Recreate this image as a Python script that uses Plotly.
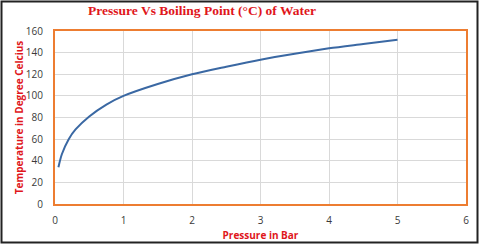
import plotly.graph_objects as go

pressure_bar = [0.05, 0.1, 0.2, 0.3, 0.5, 0.75, 1.0, 1.5, 2.0, 2.5, 3.0, 3.5, 4.0, 4.5, 5.0]
boiling_c = [34, 46, 60, 69, 81, 92, 100, 111, 120, 127, 133.5, 139, 144, 148, 152]
x_ticks = [0, 1, 2, 3, 4, 5, 6]
y_ticks = [0, 20, 40, 60, 80, 100, 120, 140, 160]

W, H = 480, 245
L, R, T, B = 55, 14, 31, 41
pw, ph = W - L - R, H - T - B

fig = go.Figure()
fig.add_trace(go.Scatter(
    x=pressure_bar, y=boiling_c, mode="lines",
    line=dict(color="#3a68a3", width=2, shape="spline", smoothing=0.8),
    showlegend=False, hoverinfo="skip"))

tick_font = dict(family="Open Sans, Liberation Sans, sans-serif", size=10, color="#3a3a3a")
fig.update_layout(
    width=W, height=H, autosize=False,
    margin=dict(l=L, r=R, t=T, b=B, autoexpand=False),
    paper_bgcolor="white", plot_bgcolor="white",
    title=dict(text="<b>Pressure Vs Boiling Point (°C) of Water</b>",
               font=dict(family="Liberation Serif, Times New Roman, serif", size=13.5, color="#e0161b"),
               x=202 / W, xanchor="center", y=1 - 10 / H, yanchor="middle", xref="container", yref="container"),
    xaxis=dict(range=[0, 6], tickvals=x_ticks, showgrid=True, gridcolor="#d9d9d9", gridwidth=1,
               zeroline=False, showline=True, linecolor="#ed7d31", linewidth=2, mirror=True,
               tickfont=tick_font, ticks="outside", ticklen=6, tickcolor="rgba(0,0,0,0)",
               automargin=False,
               title=dict(text="<b>Pressure in Bar</b>", standoff=6,
                          font=dict(family="Open Sans, Liberation Sans, sans-serif", size=10, color="#e0161b"))),
    yaxis=dict(range=[0, 160], tickvals=y_ticks, showgrid=True, gridcolor="#d9d9d9", gridwidth=1,
               zeroline=False, showline=True, linecolor="#ed7d31", linewidth=2, mirror=True,
               tickfont=tick_font, ticks="outside", ticklen=8, tickcolor="rgba(0,0,0,0)",
               automargin=False,
               title=dict(text="<b>Temperature in Degree Celcius</b>", standoff=0,
                          font=dict(family="Open Sans, Liberation Sans, sans-serif", size=10, color="#e0161b"))),
)

# outer black frame around the whole chart
fig.add_shape(type="rect", xref="paper", yref="paper",
              x0=(1.5 - L) / pw, x1=(W - 2.5 - L) / pw,
              y0=(ph + T - (H - 2.5)) / ph, y1=(ph + T - 1.5) / ph,
              line=dict(color="#222222", width=2), fillcolor="rgba(0,0,0,0)", layer="below")

fig.write_html("out.html", config={"displayModeBar": False})
with open("out.html", encoding="utf-8") as f:
    html = f.read()
html = html.replace("<head>", "<head><style>html,body{margin:0;padding:0;overflow:hidden;}</style>", 1)
with open("out.html", "w", encoding="utf-8") as f:
    f.write(html)
